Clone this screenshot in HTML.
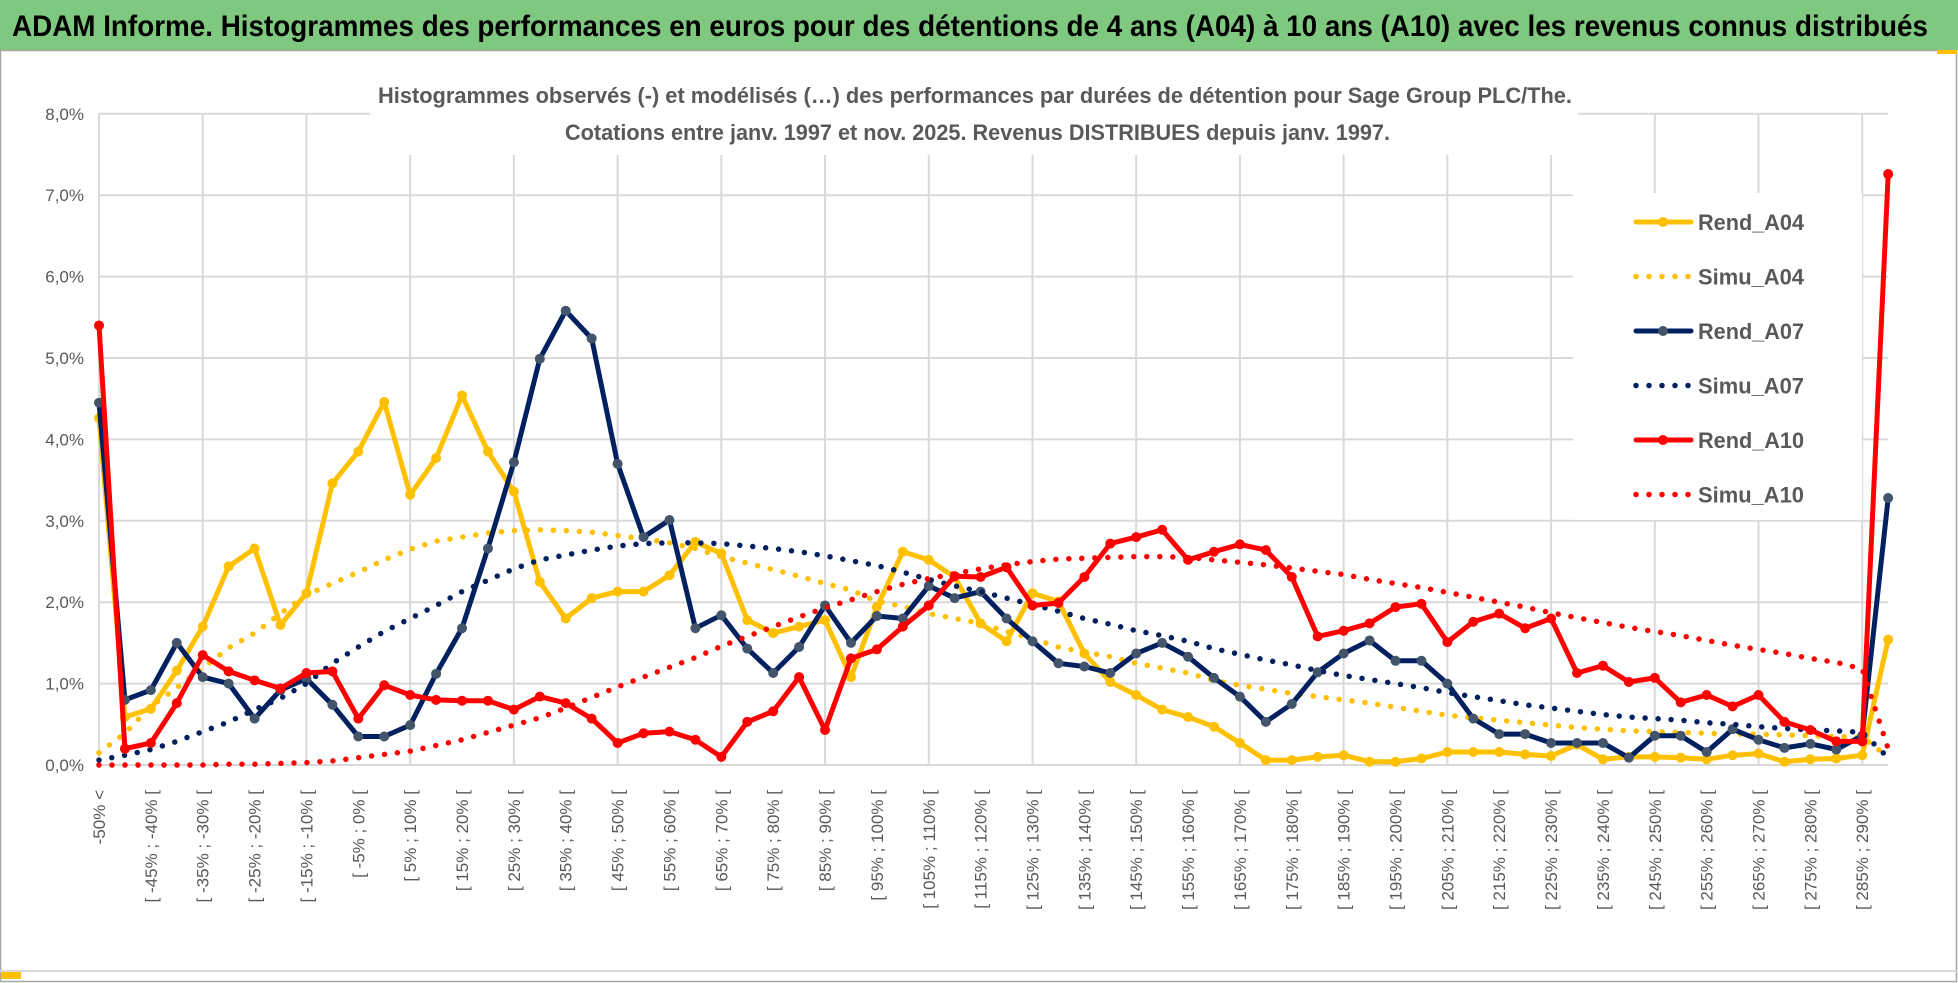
<!DOCTYPE html>
<html><head><meta charset="utf-8"><style>
html,body{margin:0;padding:0;background:#fff;}
svg{display:block;font-family:"Liberation Sans",sans-serif;}
</style></head><body>
<svg id="chart" width="1958" height="983" viewBox="0 0 1958 983" xmlns="http://www.w3.org/2000/svg">
<rect x="0" y="0" width="1958" height="983" fill="#ffffff"/>
<rect x="0" y="0" width="1958" height="50" fill="#7ec97f"/>
<text x="12" y="36" font-size="30" font-weight="bold" fill="#000" textLength="1916" lengthAdjust="spacingAndGlyphs">ADAM Informe. Histogrammes des performances en euros pour des détentions de 4 ans (A04) à 10 ans (A10) avec les revenus connus distribués</text>
<rect x="0.5" y="50.5" width="1956" height="931" fill="none" stroke="#a6a6a6" stroke-width="1.5"/>
<line x1="0" y1="971" x2="1958" y2="971" stroke="#d9d9d9" stroke-width="2"/>
<rect x="1" y="972" width="20" height="7" fill="#ffc000"/>
<rect x="1937" y="50" width="20" height="4" fill="#ffc000"/>
<g id="grid"></g>
<rect x="370" y="62" width="1208" height="93" fill="#fff"/>
<text x="378" y="103" font-size="22" font-weight="bold" fill="#595959" textLength="1194" lengthAdjust="spacingAndGlyphs">Histogrammes observés (-) et modélisés (…) des performances par durées de détention pour Sage Group PLC/The.</text>
<text x="565" y="140" font-size="22" font-weight="bold" fill="#595959" textLength="825" lengthAdjust="spacingAndGlyphs">Cotations entre janv. 1997 et nov. 2025. Revenus DISTRIBUES depuis janv. 1997.</text>
<g id="yaxis"></g>
<g id="xaxis"></g>
<rect x="1573" y="193" width="289" height="327" fill="#fff"/>
<g id="series"></g>
<g id="legend"></g>
</svg>
<script>
const categories = (function(){ const c=["-50% <"]; for(let k=1;k<70;k++){ c.push("[ "+(-55+5*k)+"% ; "+(-50+5*k)+"% ["); } return c; })();
const yTicks = [0,1,2,3,4,5,6,7,8];
const yTickLabels = ["0,0%","1,0%","2,0%","3,0%","4,0%","5,0%","6,0%","7,0%","8,0%"];
const rendA04 = [4.26,0.59,0.69,1.16,1.70,2.44,2.66,1.72,2.11,3.46,3.85,4.46,3.32,
3.77,4.54,3.85,3.36,2.25,1.80,2.05,2.13,2.13,2.33,2.74,2.60,
1.78,1.62,1.70,1.78,1.08,1.94,2.62,2.52,2.31,1.74,1.52,2.11,
2.01,1.37,1.02,0.86,0.68,0.59,0.47,0.27,0.06,0.06,0.10,0.12,
0.04,0.04,0.08,0.16,0.16,0.16,0.13,0.11,0.25,0.07,0.10,0.10,
0.09,0.07,0.12,0.14,0.04,0.07,0.08,0.12,1.54];
const simuA04 = [0.15,0.39,0.72,0.95,1.19,1.44,1.62,1.86,2.09,2.23,
2.37,2.52,2.65,2.75,2.80,2.85,2.88,2.89,2.88,2.86,
2.82,2.78,2.73,2.66,2.56,2.48,2.40,2.32,2.23,2.15,
2.01,1.95,1.86,1.80,1.74,1.64,1.55,1.45,1.39,1.33,
1.25,1.19,1.13,1.04,0.98,0.93,0.88,0.84,0.80,0.76,
0.71,0.66,0.61,0.58,0.55,0.52,0.49,0.46,0.44,0.42,
0.41,0.40,0.39,0.38,0.38,0.37,0.36,0.35,0.34,0.10];
const rendA07 = [4.45,0.80,0.92,1.50,1.08,1.00,0.57,0.92,1.06,0.74,0.35,0.35,0.49,
1.12,1.68,2.66,3.72,4.99,5.58,5.24,3.70,2.80,3.01,1.68,1.84,
1.43,1.13,1.45,1.96,1.50,1.83,1.80,2.20,2.05,2.13,1.80,1.52,
1.25,1.21,1.13,1.37,1.50,1.33,1.07,0.84,0.53,0.75,1.14,1.37,
1.53,1.28,1.28,1.00,0.57,0.38,0.38,0.27,0.27,0.27,0.09,0.36,
0.36,0.16,0.44,0.31,0.21,0.26,0.19,0.36,3.28];
const simuA07 = [0.06,0.12,0.19,0.29,0.41,0.53,0.68,0.82,1.00,1.25,
1.45,1.64,1.80,1.96,2.13,2.27,2.41,2.52,2.58,2.64,
2.69,2.72,2.73,2.73,2.72,2.69,2.66,2.62,2.57,2.51,
2.45,2.37,2.28,2.20,2.13,2.05,1.97,1.89,1.80,1.73,
1.65,1.59,1.52,1.43,1.36,1.29,1.23,1.16,1.10,1.05,
1.00,0.95,0.89,0.84,0.79,0.74,0.70,0.66,0.62,0.59,
0.57,0.55,0.52,0.50,0.47,0.45,0.43,0.42,0.40,0.09];
const rendA10 = [5.40,0.20,0.27,0.76,1.35,1.15,1.04,0.94,1.13,1.15,0.57,0.98,0.86,
0.80,0.79,0.79,0.68,0.84,0.76,0.57,0.27,0.39,0.41,0.31,0.10,
0.53,0.66,1.08,0.43,1.31,1.42,1.70,1.96,2.32,2.31,2.43,1.96,
1.99,2.31,2.72,2.80,2.89,2.52,2.62,2.71,2.64,2.31,1.58,1.65,
1.74,1.94,1.98,1.51,1.76,1.86,1.68,1.80,1.13,1.22,1.02,1.07,
0.77,0.86,0.72,0.86,0.53,0.43,0.29,0.29,7.26];
const simuA10 = [0,0,0,0,0,0.01,0.01,0.02,0.03,0.05,
0.09,0.13,0.17,0.24,0.31,0.40,0.49,0.58,0.70,0.83,
0.96,1.08,1.20,1.32,1.46,1.58,1.70,1.82,1.93,2.03,
2.13,2.22,2.29,2.35,2.41,2.46,2.50,2.53,2.54,2.55,
2.56,2.56,2.55,2.52,2.49,2.46,2.42,2.38,2.34,2.28,
2.23,2.18,2.12,2.06,2.00,1.94,1.87,1.81,1.75,1.69,
1.64,1.59,1.53,1.47,1.42,1.37,1.31,1.26,1.18,0.20];
const seriesNames = ["Rend_A04","Simu_A04","Rend_A07","Simu_A07","Rend_A10","Simu_A10"];

const NS="http://www.w3.org/2000/svg";
const X0=99, DX=25.93, Y0=765, DY=81.4;
function xPos(i){ return X0 + DX*i; }
function yPos(v){ return Y0 - DY*v; }
function mk(tag, parent){ const e=document.createElementNS(NS,tag); parent.appendChild(e); return e; }

const grid=document.getElementById('grid');
const xEnd = xPos(categories.length-1);
yTicks.forEach(function(t){
  const l=mk('line',grid);
  
  
  l.setAttribute('x1',X0); l.setAttribute('x2',xEnd);
  l.setAttribute('y1',yPos(t)); l.setAttribute('y2',yPos(t));
  l.setAttribute('stroke','#d9d9d9'); l.setAttribute('stroke-width','2');
});
for(let i=0;i<categories.length;i+=4){
  const l=mk('line',grid);
  
  
  l.setAttribute('x1',xPos(i)); l.setAttribute('x2',xPos(i));
  l.setAttribute('y1',yPos(8)); l.setAttribute('y2',Y0);
  l.setAttribute('stroke','#d9d9d9'); l.setAttribute('stroke-width','2');
}
const yaxis=document.getElementById('yaxis');
yTicks.forEach(function(t,k){
  const tx=mk('text',yaxis);
  
  
  tx.setAttribute('x',84); tx.setAttribute('y',yPos(t)+6);
  tx.setAttribute('text-anchor','end'); tx.setAttribute('font-size','17'); tx.setAttribute('fill','#595959');
  tx.textContent=yTickLabels[k];
});
const xaxis=document.getElementById('xaxis');
categories.forEach(function(c,i){
  if(i%2!==0) return;
  const tx=mk('text',xaxis);
  
  
  const x=xPos(i)+6, y=790;
  tx.setAttribute('x',x); tx.setAttribute('y',y);
  tx.setAttribute('transform','rotate(-90 '+x+' '+y+')');
  tx.setAttribute('text-anchor','end'); tx.setAttribute('font-size','17'); tx.setAttribute('fill','#595959');
  tx.textContent=c;
});

const seriesLayer=document.getElementById('series');
function ptsOf(vals){ return vals.map(function(v,i){ return xPos(i).toFixed(1)+','+yPos(v).toFixed(1); }).join(' '); }
function drawRend(vals,color,marker,name){
  const g=mk('g',seriesLayer);
  
  
  const p=mk('polyline',g);
  
  
  p.setAttribute('points',ptsOf(vals)); p.setAttribute('fill','none');
  p.setAttribute('stroke',color); p.setAttribute('stroke-width','5'); p.setAttribute('stroke-linejoin','round');
  vals.forEach(function(v,i){
    const c=mk('circle',g);
    
    
    c.setAttribute('cx',xPos(i)); c.setAttribute('cy',yPos(v)); c.setAttribute('r','5'); c.setAttribute('fill',marker);
  });
}
function drawSimu(vals,color,name){
  const p=mk('polyline',seriesLayer);
  
  
  p.setAttribute('points',ptsOf(vals)); p.setAttribute('fill','none');
  p.setAttribute('stroke',color); p.setAttribute('stroke-width','5.5');
  p.setAttribute('stroke-dasharray','0 13'); p.setAttribute('stroke-linecap','round');
}
drawRend(rendA04,'#ffc000','#ffc000','rend-a04');
drawSimu(simuA04,'#ffc000','simu-a04');
drawRend(rendA07,'#002060','#44546a','rend-a07');
drawSimu(simuA07,'#002060','simu-a07');
drawRend(rendA10,'#ff0000','#ff0000','rend-a10');
drawSimu(simuA10,'#ff0000','simu-a10');

const legend=document.getElementById('legend');
const legColors=['#ffc000','#ffc000','#002060','#002060','#ff0000','#ff0000'];
const legMarkers=['#ffc000',null,'#44546a',null,'#ff0000',null];
seriesNames.forEach(function(n,k){
  const y=222+k*54.5;
  const l=mk('line',legend);
  
  
  l.setAttribute('x1',1636); l.setAttribute('x2',1691); l.setAttribute('y1',y); l.setAttribute('y2',y);
  l.setAttribute('stroke',legColors[k]); l.setAttribute('stroke-linecap','round');
  if(legMarkers[k]){
    l.setAttribute('stroke-width','5');
    const c=mk('circle',legend);
    
    
    c.setAttribute('cx',1663); c.setAttribute('cy',y); c.setAttribute('r','5'); c.setAttribute('fill',legMarkers[k]);
  } else {
    l.setAttribute('stroke-width','5.5'); l.setAttribute('stroke-dasharray','0 13');
  }
  const t=mk('text',legend);
  
  
  t.setAttribute('x',1698); t.setAttribute('y',y+8);
  t.setAttribute('font-size','22'); t.setAttribute('font-weight','bold'); t.setAttribute('fill','#595959');
  t.setAttribute('textLength','106'); t.setAttribute('lengthAdjust','spacingAndGlyphs');
  t.textContent=n;
});
</script>
</body></html>
